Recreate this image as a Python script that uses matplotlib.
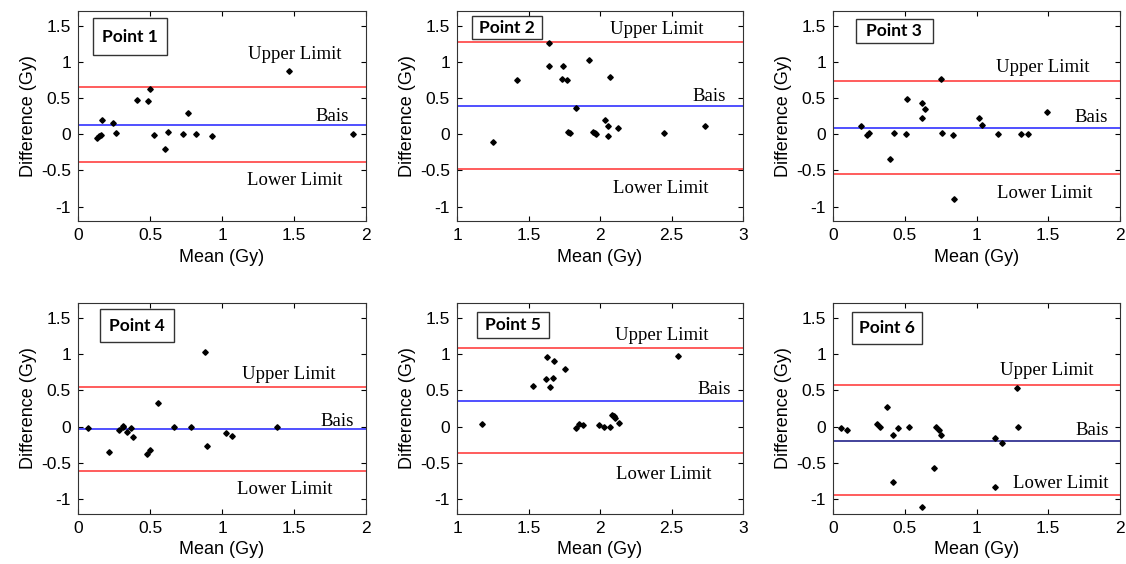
import matplotlib
matplotlib.use('Agg')
import numpy as np
import matplotlib.pyplot as plt
from matplotlib.patches import Rectangle

# --- data (Bland-Altman, 6 points) ---
mean_p1 = [0.13, 0.144, 0.157, 0.169, 0.241, 0.266, 0.407, 0.488, 0.502, 0.528,
           0.606, 0.627, 0.731, 0.766, 0.819, 0.928, 1.468, 1.907]
diff_p1 = [-0.046, -0.023, -0.005, 0.194, 0.162, 0.014, 0.472, 0.454, 0.62, -0.014,
           -0.204, 0.032, 0.0, 0.296, 0.0, -0.023, 0.88, 0.0]

mean_p2 = [1.248, 1.417, 1.641, 1.641, 1.743, 1.736, 1.766, 1.926, 2.072, 1.829,
           1.778, 1.789, 1.951, 1.963, 1.975, 2.032, 2.058, 2.058, 2.125, 2.444, 2.734]
diff_p2 = [-0.102, 0.75, 1.264, 0.94, 0.94, 0.764, 0.745, 1.028, 0.792, 0.37,
           0.028, 0.019, 0.032, 0.014, 0.0, 0.194, 0.12, -0.028, 0.093, 0.014, 0.12]

mean_p3 = [0.194, 0.236, 0.252, 0.4, 0.423, 0.509, 0.516, 0.619, 0.643, 0.621,
           0.755, 0.762, 0.834, 0.841, 1.016, 1.035, 1.152, 1.311, 1.357, 1.49]
diff_p3 = [0.116, -0.005, 0.023, -0.335, 0.014, 0.0, 0.488, 0.428, 0.353, 0.228,
           0.767, 0.014, -0.014, -0.893, 0.223, 0.13, 0.0, 0.0, 0.0, 0.307]

mean_p4 = [0.069, 0.215, 0.287, 0.31, 0.314, 0.34, 0.368, 0.384, 0.481, 0.502,
           0.556, 0.669, 0.785, 0.884, 0.894, 1.025, 1.069, 1.382]
diff_p4 = [-0.023, -0.346, -0.051, 0.014, -0.005, -0.069, -0.023, -0.138, -0.378, -0.318,
           0.327, -0.009, -0.009, 1.023, -0.267, -0.083, -0.129, -0.009]

mean_p5 = [1.174, 1.528, 1.621, 1.63, 1.653, 1.674, 1.681, 1.753, 1.833, 1.856,
           1.881, 1.991, 2.026, 2.067, 2.084, 2.095, 2.107, 2.13, 2.547]
diff_p5 = [0.037, 0.56, 0.661, 0.954, 0.541, 0.674, 0.908, 0.789, -0.018, 0.037,
           0.023, 0.023, -0.005, -0.005, 0.156, 0.142, 0.119, 0.05, 0.977]

mean_p6 = [0.058, 0.1, 0.304, 0.327, 0.376, 0.416, 0.416, 0.451, 0.526, 0.621,
           0.701, 0.72, 0.736, 0.755, 1.129, 1.18, 1.129, 1.283, 1.292]
diff_p6 = [-0.019, -0.051, 0.037, -0.009, 0.269, -0.111, -0.755, -0.019, -0.009, -1.106,
           -0.565, -0.009, -0.051, -0.111, -0.153, -0.218, -0.833, 0.532, -0.009]

bias = [0.13, 0.39, 0.085, -0.035, 0.36, -0.19]
upper = [0.655, 1.27, 0.74, 0.54, 1.075, 0.57]
lower = [-0.385, -0.475, -0.555, -0.605, -0.365, -0.945]
titles = ['Point 1', 'Point 2', 'Point 3', 'Point 4', 'Point 5', 'Point 6']
xranges = [(0, 2), (1, 3), (0, 2), (0, 2), (1, 3), (0, 2)]

means = [mean_p1, mean_p2, mean_p3, mean_p4, mean_p5, mean_p6]
diffs = [diff_p1, diff_p2, diff_p3, diff_p4, diff_p5, diff_p6]

# layout (figure fractions) and label placement
axes_pos = [[0.0693, 0.608, 0.2558, 0.372], [0.4059, 0.608, 0.254, 0.372],
            [0.7398, 0.608, 0.2549, 0.372], [0.0693, 0.0887, 0.2558, 0.374],
            [0.4059, 0.0887, 0.254, 0.374], [0.7398, 0.0887, 0.2549, 0.374]]
# box: x0, y_bottom, width, height in axes fraction
boxes = [(0.052, 0.79, 0.257, 0.177), (0.052, 0.867, 0.245, 0.109),
         (0.080, 0.848, 0.268, 0.114), (0.076, 0.815, 0.257, 0.157),
         (0.070, 0.834, 0.252, 0.123), (0.066, 0.806, 0.244, 0.151)]
# text positions in data coords: upper, bias, lower
text_pos = [((1.507, 1.10), (1.764, 0.245), (1.503, -0.635)),
            ((2.40, 1.449), (2.764, 0.522), (2.427, -0.747)),
            ((1.46, 0.917), (1.798, 0.226), (1.477, -0.817)),
            ((1.462, 0.72), (1.80, 0.07), (1.434, -0.87)),
            ((2.434, 1.25), (2.80, 0.51), (2.444, -0.664)),
            ((1.49, 0.776), (1.804, -0.055), (1.587, -0.784))]

plt.rcParams['font.family'] = ['Liberation Sans', 'DejaVu Sans']

fig = plt.figure(figsize=(11.26, 5.64), dpi=100)

for i in range(6):
    ax = fig.add_axes(axes_pos[i])
    x0, x1 = xranges[i]
    ax.axhline(upper[i], color='#ff3030', lw=1.1)
    ax.axhline(lower[i], color='#ff3030', lw=1.1)
    ax.axhline(bias[i], color='#2020ff' if i != 5 else '#101080', lw=1.1)
    ax.plot(means[i], diffs[i], linestyle='none', marker='D', ms=2.8,
            color='black', zorder=5)

    ax.set_xlim(x0, x1)
    ax.set_ylim(-1.2, 1.7)
    ticks = np.arange(x0, x1 + 0.01, 0.5)
    ax.set_xticks(ticks)
    ax.set_xticklabels(['%g' % t for t in ticks])
    ax.set_yticks([-1, -0.5, 0, 0.5, 1, 1.5])
    ax.set_yticklabels(['-1', '-0.5', '0', '0.5', '1', '1.5'])
    ax.tick_params(direction='in', top=True, right=True, length=3.5,
                   labelsize=12.5, width=0.8, pad=5)
    for s in ax.spines.values():
        s.set_linewidth(0.8)
        s.set_color('#333333')
    ax.set_xlabel('Mean (Gy)', fontsize=13, labelpad=4)
    ax.set_ylabel('Difference (Gy)', fontsize=13, labelpad=3)

    bx, by, bw, bh = boxes[i]
    ax.add_patch(Rectangle((bx, by), bw, bh, transform=ax.transAxes,
                           facecolor='white', edgecolor='#333333', lw=1.0, zorder=6))
    ax.text(bx + bw / 2, by + bh / 2, titles[i], transform=ax.transAxes,
            ha='center', va='center', fontsize=12.5, fontweight='bold',
            family=['Lato', 'DejaVu Sans'], zorder=7)

    for (tx, ty), s in zip(text_pos[i], ['Upper Limit', 'Bais', 'Lower Limit']):
        ax.text(tx, ty, s, ha='center', va='center', fontsize=13.5,
                family=['Liberation Serif', 'DejaVu Serif'])

fig.savefig('out.png', dpi=100)
